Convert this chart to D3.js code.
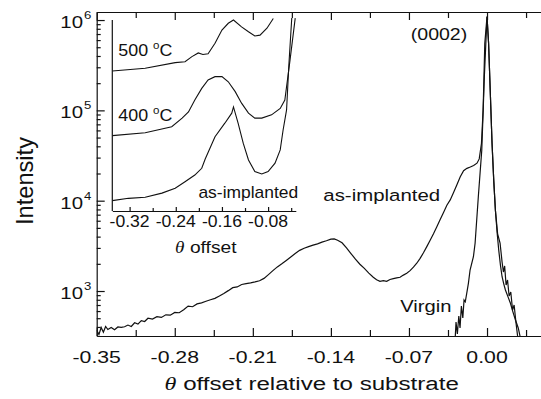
<!DOCTYPE html>
<html>
<head>
<meta charset="utf-8">
<script src="https://cdn.jsdelivr.net/npm/d3@7"></script>
<style>
  body { margin: 0; background: #fff; }
  svg { display: block; }
  text { font-family: "Liberation Sans", Arial, sans-serif; fill: #111; }
</style>
</head>
<body>
<script>
// main panel: theta offset vs intensity (log)
const mainTicks = [-0.35, -0.28, -0.21, -0.14, -0.07, 0.00];
const mainMinorTicks = [-0.315, -0.245, -0.175, -0.105, -0.035, 0.035];
const yDecades = [3, 4, 5, 6];
const insetTicks = [-0.32, -0.24, -0.16, -0.08];
const insetMinorTicks = [-0.28, -0.20, -0.12, -0.04];

// [theta, intensity]
const asImplanted = [
  [-0.350, 370], [-0.348, 330], [-0.346, 395], [-0.344, 350], [-0.342, 405], [-0.340, 375],
  [-0.337, 395], [-0.334, 372], [-0.331, 400], [-0.328, 395], [-0.325, 402], [-0.322, 420],
  [-0.319, 405], [-0.316, 445], [-0.313, 430], [-0.310, 470], [-0.307, 460], [-0.304, 500],
  [-0.300, 490], [-0.296, 520], [-0.292, 510], [-0.288, 545], [-0.284, 540], [-0.280, 580],
  [-0.276, 575], [-0.272, 620], [-0.268, 680], [-0.264, 670], [-0.260, 720], [-0.256, 740],
  [-0.252, 770], [-0.248, 800], [-0.244, 830], [-0.240, 880], [-0.236, 940], [-0.232, 1010],
  [-0.228, 1090], [-0.224, 1110], [-0.220, 1180], [-0.216, 1210], [-0.212, 1230], [-0.208, 1260],
  [-0.204, 1300], [-0.200, 1380], [-0.196, 1520], [-0.192, 1680], [-0.188, 1850], [-0.184, 2000],
  [-0.180, 2180], [-0.176, 2380], [-0.172, 2600], [-0.168, 2820], [-0.164, 2980], [-0.160, 3100],
  [-0.156, 3220], [-0.152, 3330], [-0.148, 3480], [-0.144, 3600], [-0.140, 3750], [-0.137, 3780],
  [-0.134, 3650], [-0.130, 3420], [-0.126, 3000], [-0.122, 2600], [-0.118, 2250], [-0.114, 1980],
  [-0.110, 1780], [-0.106, 1580], [-0.102, 1420], [-0.099, 1330], [-0.096, 1280], [-0.093, 1300],
  [-0.090, 1280], [-0.087, 1340], [-0.084, 1370], [-0.081, 1400], [-0.078, 1420], [-0.075, 1500],
  [-0.072, 1570], [-0.069, 1680], [-0.066, 1840], [-0.063, 2030], [-0.060, 2300], [-0.057, 2650],
  [-0.054, 3100], [-0.051, 3650], [-0.048, 4300], [-0.045, 5150], [-0.042, 6200], [-0.039, 7400],
  [-0.036, 8900], [-0.033, 10200], [-0.030, 12300], [-0.027, 15000], [-0.024, 18400], [-0.021, 21500],
  [-0.018, 22800], [-0.015, 23600], [-0.012, 24500], [-0.009, 26000], [-0.007, 29000], [-0.005, 43000],
  [-0.0035, 101000], [-0.002, 552000], [0.000, 1090000], [0.0014, 552000], [0.003, 150000],
  [0.0045, 43200], [0.006, 17000], [0.0075, 7890], [0.009, 4500], [0.0105, 2840], [0.012, 1950],
  [0.0135, 1440], [0.015, 1200], [0.0165, 1026], [0.019, 850], [0.021, 731], [0.023, 600],
  [0.0255, 478], [0.028, 390], [0.030, 300]
];

const virgin = [
  [-0.0286, 290], [-0.0278, 454], [-0.0266, 334], [-0.0253, 528], [-0.0242, 389], [-0.0230, 682],
  [-0.0217, 503], [-0.0206, 794], [-0.0195, 760], [-0.0182, 942], [-0.0167, 1216], [-0.0152, 1707],
  [-0.0122, 2398], [-0.0107, 3375], [-0.0078, 11070], [-0.0047, 36400], [-0.0024, 236000],
  [0.000, 1090000], [0.0014, 552000], [0.003, 150000], [0.0045, 43200], [0.006, 17000],
  [0.0075, 7890], [0.0095, 4300], [0.0117, 3397], [0.0135, 2094], [0.0147, 1623], [0.0158, 1893],
  [0.0171, 1164], [0.0184, 1324], [0.0198, 881], [0.0213, 975], [0.0229, 617], [0.0243, 700],
  [0.026, 443], [0.0278, 290]
];

// inset curves (vertically offset in the original)
const insetAsImplanted = [
  [-0.350, 10000], [-0.322, 10600], [-0.293, 10900], [-0.264, 12100], [-0.241, 13700], [-0.224, 16200],
  [-0.207, 19200], [-0.195, 22800], [-0.189, 28900], [-0.172, 51000], [-0.155, 72000], [-0.143, 93000],
  [-0.140, 109000], [-0.132, 72000], [-0.123, 43000], [-0.114, 28200], [-0.103, 21000], [-0.091, 19700],
  [-0.080, 21000], [-0.068, 26000], [-0.059, 36400], [-0.054, 60500], [-0.048, 101000], [-0.044, 320000],
  [-0.039, 1050000]
];
const inset400 = [
  [-0.350, 52400], [-0.293, 56500], [-0.247, 65900], [-0.229, 82000], [-0.218, 96000], [-0.207, 130000],
  [-0.195, 175000], [-0.184, 217000], [-0.172, 236000], [-0.160, 236000], [-0.149, 207000], [-0.137, 161000],
  [-0.126, 120000], [-0.114, 93000], [-0.103, 82000], [-0.091, 82000], [-0.074, 89000], [-0.059, 105000],
  [-0.051, 130000], [-0.042, 360000], [-0.033, 1050000]
];
const inset500 = [
  [-0.350, 272000], [-0.293, 292000], [-0.241, 337000], [-0.224, 345000], [-0.212, 393000], [-0.201, 432000],
  [-0.193, 415000], [-0.184, 422000], [-0.172, 552000], [-0.160, 774000], [-0.149, 920000], [-0.140, 1000000],
  [-0.126, 840000], [-0.114, 740000], [-0.103, 665000], [-0.094, 680000], [-0.082, 810000], [-0.071, 1040000]
];

const width = 541, height = 399;
const svg = d3.select("body").append("svg")
  .attr("width", width).attr("height", height);

// main scales
const x = d3.scaleLinear().domain([-0.35, 0.0484]).range([96.7, 541]);
const y = d3.scaleLog().domain([Math.pow(10, 2.502), Math.pow(10, 6.089)]).range([336, 12]);
// inset scales (same log spacing as the main one)
const xi = d3.scaleLinear().domain([-0.35, -0.032]).range([112.3, 295.8]);
const yi = d3.scaleLog().domain([Math.pow(10, 3.885), 1e6]).range([211, 20]);

// stretched text helper, the original figure is wider than tall
function label(g, px, py, txt, opts) {
  const o = Object.assign({ size: 17, sx: 1.2, anchor: "middle" }, opts);
  const t = g.append("text")
    .attr("transform", `translate(${px},${py}) scale(${o.sx},1)`)
    .attr("text-anchor", o.anchor)
    .attr("font-size", o.size);
  if (typeof txt === "string") t.text(txt);
  else txt(t);
  return t;
}

const defs = svg.append("defs");
defs.append("clipPath").attr("id", "clipMain").append("rect")
  .attr("x", 96.7).attr("y", 12).attr("width", 541 - 96.7).attr("height", 336 - 12);
defs.append("clipPath").attr("id", "clipInset").append("rect")
  .attr("x", 112.3).attr("y", 15).attr("width", 296 - 112.3).attr("height", 211 - 15);

// frame (right side is off the picture)
const axisStyle = sel => sel.selectAll("path, line").attr("stroke", "#111").attr("stroke-width", 1.2);

svg.append("g").attr("transform", "translate(0,336)")
  .call(d3.axisBottom(x).tickValues(mainTicks).tickSize(-8).tickSizeOuter(0).tickFormat(""))
  .call(axisStyle);
svg.append("g").attr("transform", "translate(0,336)")
  .call(d3.axisBottom(x).tickValues(mainMinorTicks).tickSize(-6).tickSizeOuter(0).tickFormat(""))
  .call(axisStyle).select(".domain").remove();
svg.append("g").attr("transform", "translate(0,12)")
  .call(d3.axisBottom(x).tickValues(mainTicks).tickSize(8).tickSizeOuter(0).tickFormat(""))
  .call(axisStyle);
svg.append("g").attr("transform", "translate(0,12)")
  .call(d3.axisBottom(x).tickValues(mainMinorTicks).tickSize(6).tickSizeOuter(0).tickFormat(""))
  .call(axisStyle).select(".domain").remove();

const yMajor = yDecades.map(d => Math.pow(10, d));
const yMinor = [];
[2, 3, 4, 5, 6].forEach(d => {
  for (let k = 2; k <= 9; k++) {
    const v = k * Math.pow(10, d);
    if (v >= y.domain()[0] && v <= y.domain()[1]) yMinor.push(v);
  }
});
svg.append("g").attr("transform", "translate(96.7,0)")
  .call(d3.axisRight(y).tickValues(yMajor).tickSize(8).tickSizeOuter(0).tickFormat(""))
  .call(axisStyle);
svg.append("g").attr("transform", "translate(96.7,0)")
  .call(d3.axisRight(y).tickValues(yMinor).tickSize(4).tickSizeOuter(0).tickFormat(""))
  .call(axisStyle).select(".domain").remove();

// tick labels
const labels = svg.append("g");
mainTicks.forEach(v => label(labels, x(v), 363, d3.format(".2f")(v).replace("−", "-"), { size: 17, sx: 1.25 }));
yDecades.forEach(d => {
  const py = y(Math.pow(10, d));
  label(labels, 83, py + 8, "10", { size: 17, sx: 1.2, anchor: "end" });
  label(labels, 84, py - 1, String(d), { size: 11, sx: 1.2, anchor: "start" });
});

// axis titles
label(labels, 311.7, 390, t => {
  t.append("tspan").attr("font-family", "Liberation Serif, serif").attr("font-style", "italic").text("\u03B8");
  t.append("tspan").text(" offset relative to substrate");
}, { size: 19, sx: 1.27 });
labels.append("text")
  .attr("transform", "translate(33,181) scale(1.2,1) rotate(-90)")
  .attr("text-anchor", "middle")
  .attr("font-size", 20)
  .attr("textLength", 88).attr("lengthAdjust", "spacingAndGlyphs")
  .text("Intensity");

// main curves
const line = d3.line().x(d => x(d[0])).y(d => y(d[1]));
const main = svg.append("g").attr("clip-path", "url(#clipMain)");
main.append("path").datum(virgin).attr("d", line)
  .attr("fill", "none").attr("stroke", "#111").attr("stroke-width", 1.2);
main.append("path").datum(asImplanted).attr("d", line)
  .attr("fill", "none").attr("stroke", "#111").attr("stroke-width", 1.2);

label(labels, 439, 40, "(0002)", { size: 17, sx: 1.15 });
label(labels, 381.7, 200.7, "as-implanted", { size: 17, sx: 1.2 });
label(labels, 425.8, 312, "Virgin", { size: 17, sx: 1.19 });

// inset
const inset = svg.append("g");
inset.append("line").attr("x1", 112.3).attr("x2", 112.3).attr("y1", yi.range()[1]).attr("y2", yi.range()[0])
  .attr("stroke", "#111").attr("stroke-width", 1.2);
inset.append("g").attr("transform", "translate(0,211)")
  .call(d3.axisBottom(xi).tickValues(insetTicks).tickSize(-4).tickSizeOuter(0).tickFormat(""))
  .call(axisStyle);
inset.append("g").attr("transform", "translate(0,211)")
  .call(d3.axisBottom(xi).tickValues(insetMinorTicks).tickSize(-3).tickSizeOuter(0).tickFormat(""))
  .call(axisStyle).select(".domain").remove();
insetTicks.forEach(v => label(inset, xi(v), 227.3, d3.format(".2f")(v).replace("−", "-"), { size: 16, sx: 1.1 }));
label(inset, 205.8, 253.3, t => {
  t.append("tspan").attr("font-family", "Liberation Serif, serif").attr("font-style", "italic").text("\u03B8");
  t.append("tspan").text(" offset");
}, { size: 17, sx: 1.13 });

const lineIn = d3.line().x(d => xi(d[0])).y(d => yi(d[1]));
const insetCurves = inset.append("g").attr("clip-path", "url(#clipInset)");
[inset500, inset400, insetAsImplanted].forEach(s => {
  insetCurves.append("path").datum(s).attr("d", lineIn)
    .attr("fill", "none").attr("stroke", "#111").attr("stroke-width", 1.1);
});

const degLabel = (t, n) => {
  t.append("tspan").text(n + " ");
  t.append("tspan").attr("font-size", 11).attr("dy", -7).text("o");
  t.append("tspan").attr("dy", 7).text("C");
};
label(inset, 118.3, 56, t => degLabel(t, "500"), { size: 17, sx: 1.05, anchor: "start" });
label(inset, 118.3, 120.7, t => degLabel(t, "400"), { size: 17, sx: 1.05, anchor: "start" });
label(inset, 248.3, 198, "as-implanted", { size: 16, sx: 1.09 });
</script>
</body>
</html>
